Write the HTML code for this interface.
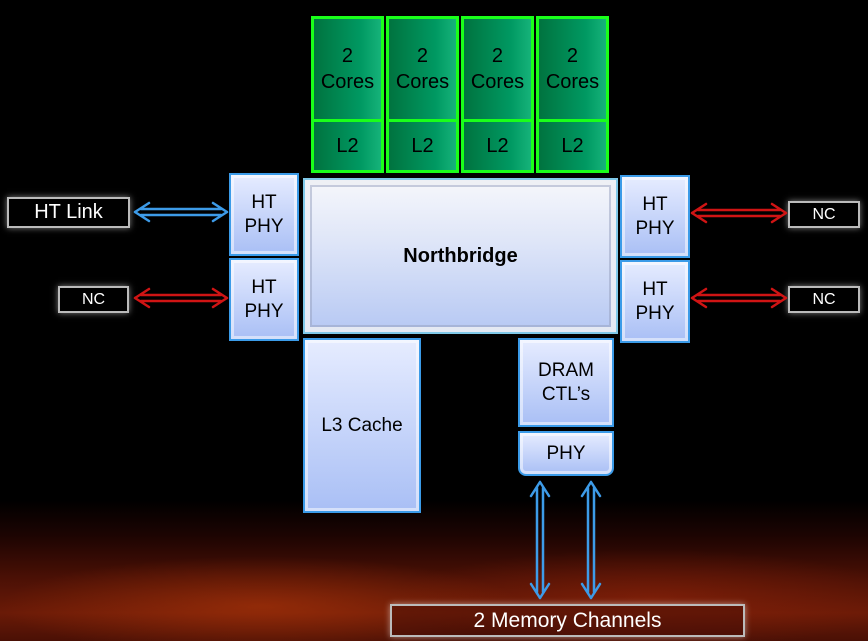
<!DOCTYPE html>
<html><head><style>
body{margin:0;width:868px;height:641px;overflow:hidden;background:#000;font-family:"Liberation Sans",sans-serif;position:relative}
.bg{position:absolute;left:0;top:500px;width:868px;height:141px;background:radial-gradient(ellipse 30% 35% at 30% 75%,rgba(190,60,10,.5),rgba(0,0,0,0)),radial-gradient(ellipse 30% 35% at 75% 70%,rgba(160,40,10,.45),rgba(0,0,0,0)),linear-gradient(180deg,#000 0%,#1c0402 25%,#4a1005 55%,#6a1a07 80%,#4a1005 100%)}
.g{position:absolute;background:linear-gradient(90deg,#00733f,#009962 70%,#16b37a);border:3px solid #1aff1a;box-sizing:border-box;color:#000;text-align:center;font-size:20px;display:flex;align-items:center;justify-content:center;line-height:26px}
.b{position:absolute;background:linear-gradient(180deg,#e6ecff,#a9bff5);border:2px solid #3b9be8;box-sizing:border-box;color:#000;text-align:center;font-size:19px;display:flex;align-items:center;justify-content:center;line-height:24px;box-shadow:inset 0 0 0 3px rgba(255,255,255,.5)}
.w{position:absolute;border:2px solid #bbb;box-sizing:border-box;color:#fff;display:flex;align-items:center;justify-content:center;box-shadow:0 0 6px rgba(255,255,255,.5)}
</style></head><body>
<div class="bg"></div>
<div class="g" style="left:311px;top:16px;width:73px;height:106px">2<br>Cores</div>
<div class="g" style="left:386px;top:16px;width:73px;height:106px">2<br>Cores</div>
<div class="g" style="left:461px;top:16px;width:73px;height:106px">2<br>Cores</div>
<div class="g" style="left:536px;top:16px;width:73px;height:106px">2<br>Cores</div>
<div class="g" style="left:311px;top:119px;width:73px;height:54px">L2</div>
<div class="g" style="left:386px;top:119px;width:73px;height:54px">L2</div>
<div class="g" style="left:461px;top:119px;width:73px;height:54px">L2</div>
<div class="g" style="left:536px;top:119px;width:73px;height:54px">L2</div>
<div class="b" style="left:229px;top:173px;width:70px;height:83px">HT<br>PHY</div>
<div class="b" style="left:229px;top:258px;width:70px;height:83px">HT<br>PHY</div>
<div class="b" style="left:620px;top:175px;width:70px;height:83px">HT<br>PHY</div>
<div class="b" style="left:620px;top:260px;width:70px;height:83px">HT<br>PHY</div>
<div class="b" style="left:303px;top:178px;width:315px;height:156px;background:linear-gradient(180deg,#f6f7fb,#dfe6f8 40%,#b6c8f3);border-color:#7fc8e8;font-weight:bold;font-size:20px;box-shadow:inset 0 0 0 5px rgba(255,255,255,.7),inset 0 0 0 7px rgba(150,160,190,.5)">Northbridge</div>
<div class="b" style="left:303px;top:338px;width:118px;height:175px">L3 Cache</div>
<div class="b" style="left:518px;top:338px;width:96px;height:89px">DRAM<br>CTL’s</div>
<div class="b" style="left:518px;top:431px;width:96px;height:45px;border-radius:0 0 8px 8px">PHY</div>
<div class="w" style="left:7px;top:197px;width:123px;height:31px;font-size:20px">HT Link</div>
<div class="w" style="left:58px;top:286px;width:71px;height:27px;font-size:16px">NC</div>
<div class="w" style="left:788px;top:201px;width:72px;height:27px;font-size:16px">NC</div>
<div class="w" style="left:788px;top:286px;width:72px;height:27px;font-size:16px">NC</div>
<div class="w" style="left:390px;top:604px;width:355px;height:33px;font-size:21px;background:rgba(60,10,5,.4)">2 Memory Channels</div>
<svg width="868" height="641" style="position:absolute;left:0;top:0" fill="none" stroke-width="2.5" stroke-linecap="round">
<g stroke="#3d9be8">
<path d="M135 212 L149 203 M135 212 L149 221 M227 212 L213 203 M227 212 L213 221 M141 209 H221 M141 215 H221"/>
<path d="M540 482 L531 496 M540 482 L549 496 M540 598 L531 584 M540 598 L549 584 M537 488 V592 M543 488 V592"/>
<path d="M591 482 L582 496 M591 482 L600 496 M591 598 L582 584 M591 598 L600 584 M588 488 V592 M594 488 V592"/>
</g>
<g stroke="#d01414">
<path d="M135 298 L149 289 M135 298 L149 307 M227 298 L213 289 M227 298 L213 307 M141 295 H221 M141 301 H221"/>
<path d="M692 213 L706 204 M692 213 L706 222 M786 213 L772 204 M786 213 L772 222 M698 210 H780 M698 216 H780"/>
<path d="M692 298 L706 289 M692 298 L706 307 M786 298 L772 289 M786 298 L772 307 M698 295 H780 M698 301 H780"/>
</g>
</svg>
</body></html>
